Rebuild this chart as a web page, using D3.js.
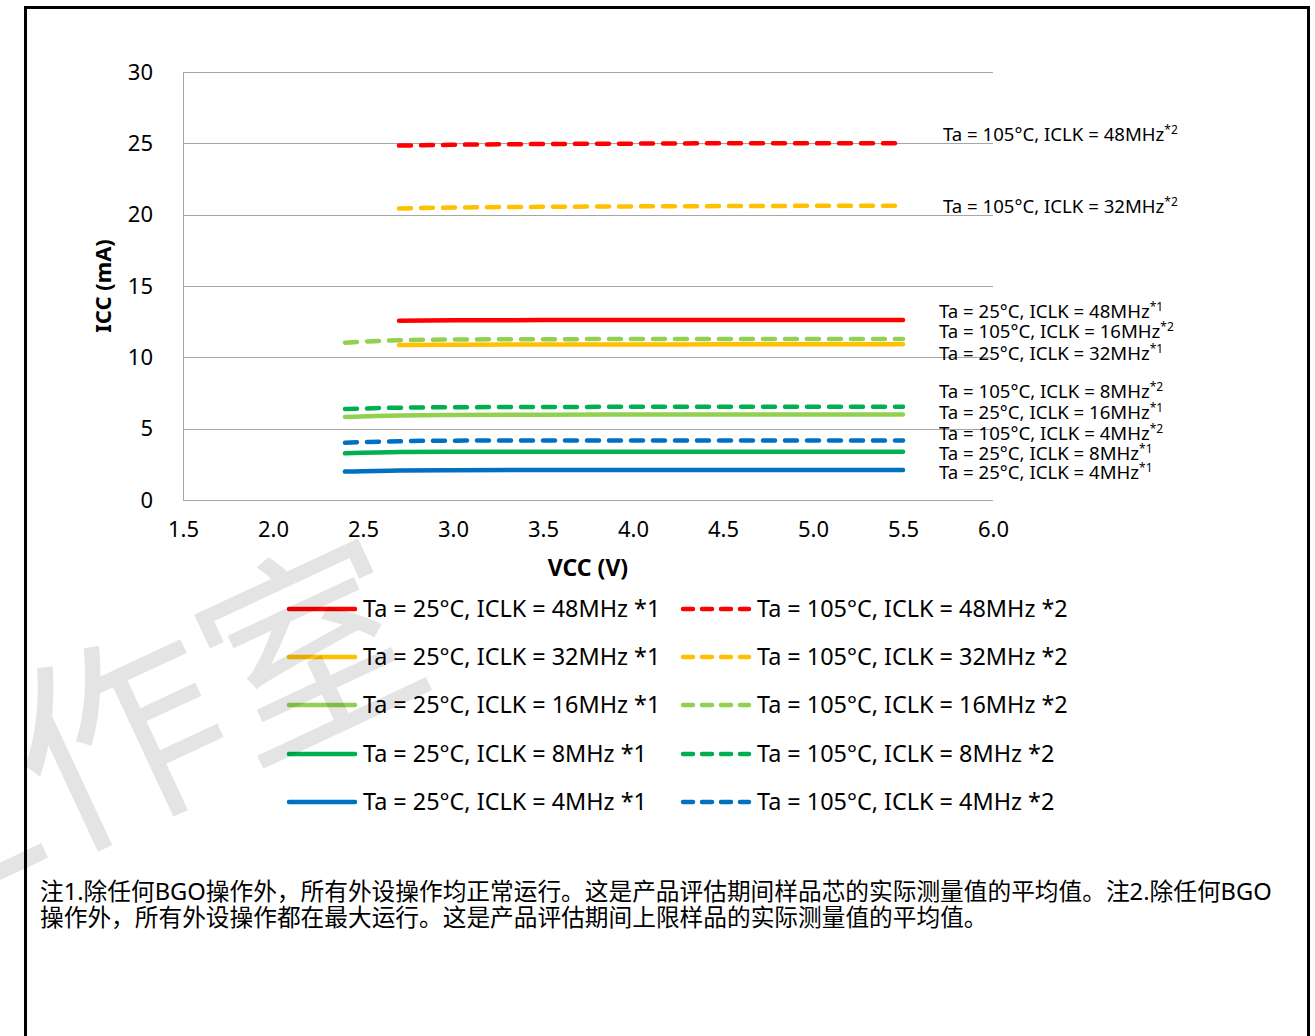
<!DOCTYPE html>
<html><head><meta charset="utf-8">
<script src="https://cdn.jsdelivr.net/npm/d3@7"></script>
<style>
body{margin:0;background:#fff;}
text{font-family:"Noto Sans","Noto Sans CJK SC",sans-serif;}
</style></head>
<body><svg id="c" width="1315" height="1036"></svg>
<script>
// ---- data ----
const xStart24 = [2.4, 2.7, 3.0, 3.5, 4.0, 4.5, 5.0, 5.5];
const xStart27 = [2.7, 3.0, 3.5, 4.0, 4.5, 5.0, 5.5];
const ta25_4MHz  = [1.99, 2.07, 2.09, 2.10, 2.10, 2.10, 2.10, 2.10];
const ta25_8MHz  = [3.27, 3.36, 3.38, 3.39, 3.39, 3.39, 3.39, 3.39];
const ta25_16MHz = [5.82, 5.93, 5.96, 5.98, 5.99, 6.00, 6.00, 6.00];
const ta25_32MHz = [10.86, 10.88, 10.90, 10.90, 10.91, 10.91, 10.91];
const ta25_48MHz = [12.57, 12.60, 12.61, 12.62, 12.62, 12.62, 12.62];
const ta105_4MHz  = [4.02, 4.12, 4.16, 4.17, 4.17, 4.17, 4.17, 4.17];
const ta105_8MHz  = [6.38, 6.47, 6.50, 6.52, 6.53, 6.53, 6.53, 6.53];
const ta105_16MHz = [11.03, 11.20, 11.25, 11.27, 11.28, 11.28, 11.28, 11.28];
const ta105_32MHz = [20.44, 20.50, 20.55, 20.58, 20.60, 20.62, 20.63];
const ta105_48MHz = [24.84, 24.90, 24.95, 24.98, 25.00, 25.00, 25.00];
const xTicks = [1.5, 2.0, 2.5, 3.0, 3.5, 4.0, 4.5, 5.0, 5.5, 6.0];
const yTicks = [0, 5, 10, 15, 20, 25, 30];
const legendLeft  = ["Ta = 25°C, ICLK = 48MHz *1","Ta = 25°C, ICLK = 32MHz *1","Ta = 25°C, ICLK = 16MHz *1","Ta = 25°C, ICLK = 8MHz *1","Ta = 25°C, ICLK = 4MHz *1"];
const legendRight = ["Ta = 105°C, ICLK = 48MHz *2","Ta = 105°C, ICLK = 32MHz *2","Ta = 105°C, ICLK = 16MHz *2","Ta = 105°C, ICLK = 8MHz *2","Ta = 105°C, ICLK = 4MHz *2"];
const colors = ["#FF0000","#FFC000","#92D050","#00B050","#0070C0"];
// right-side annotations: [main text, superscript]
const annoText = [
 ["Ta = 105°C, ICLK = 48MHz","*2"],["Ta = 105°C, ICLK = 32MHz","*2"],
 ["Ta = 25°C, ICLK = 48MHz","*1"],["Ta = 105°C, ICLK = 16MHz","*2"],["Ta = 25°C, ICLK = 32MHz","*1"],
 ["Ta = 105°C, ICLK = 8MHz","*2"],["Ta = 25°C, ICLK = 16MHz","*1"],["Ta = 105°C, ICLK = 4MHz","*2"],
 ["Ta = 25°C, ICLK = 8MHz","*1"],["Ta = 25°C, ICLK = 4MHz","*1"]];
const footLines = ["注1.除任何BGO操作外，所有外设操作均正常运行。这是产品评估期间样品芯的实际测量值的平均值。注2.除任何BGO",
 "操作外，所有外设操作都在最大运行。这是产品评估期间上限样品的实际测量值的平均值。"];
const xTitle = "VCC (V)", yTitle = "ICC (mA)";
const watermark = "工作室";

// ---- layout ----
const svg = d3.select("#c");
const x = d3.scaleLinear().domain([1.5, 6]).range([183, 993]);
const y = d3.scaleLinear().domain([0, 30]).range([500, 72]);

// frame
svg.append("rect").attr("x",25.5).attr("y",7.5).attr("width",1283).attr("height",1100)
  .attr("fill","none").attr("stroke","#000").attr("stroke-width",3);

// grid
svg.append("g").selectAll("line").data(yTicks).join("line")
  .attr("x1",x(1.5)).attr("x2",x(6)).attr("y1",d=>Math.round(y(d))+0.5).attr("y2",d=>Math.round(y(d))+0.5)
  .attr("stroke","#a6a6a6").attr("stroke-width",1);
svg.append("line").attr("x1",x(1.5)+0.5).attr("x2",x(1.5)+0.5).attr("y1",y(30)).attr("y2",y(0))
  .attr("stroke","#a6a6a6");

// axes
const ay = svg.append("g").attr("transform",`translate(${x(1.5)},0)`)
  .call(d3.axisLeft(y).tickValues(yTicks).tickSize(0).tickPadding(30).tickFormat(d3.format("d")));
const ax = svg.append("g").attr("transform",`translate(0,${y(0)})`)
  .call(d3.axisBottom(x).tickValues(xTicks).tickSize(0).tickPadding(21).tickFormat(d3.format(".1f")));
[ay,ax].forEach(a=>{a.select(".domain").remove();a.selectAll("text").attr("font-size",22).attr("fill","#000")
  .attr("font-family","'Noto Sans',sans-serif");});

svg.append("text").attr("x",588).attr("y",576).attr("text-anchor","middle").attr("font-size",23)
  .attr("font-weight","bold").text(xTitle);
svg.append("text").attr("transform","translate(111,286) rotate(-90)").attr("text-anchor","middle")
  .attr("font-size",22).attr("font-weight","bold").text(yTitle);

// series
const series = [
 {xs:xStart27, v:ta25_48MHz, c:colors[0], dash:false},
 {xs:xStart27, v:ta25_32MHz, c:colors[1], dash:false},
 {xs:xStart24, v:ta25_16MHz, c:colors[2], dash:false},
 {xs:xStart24, v:ta25_8MHz,  c:colors[3], dash:false},
 {xs:xStart24, v:ta25_4MHz,  c:colors[4], dash:false},
 {xs:xStart27, v:ta105_48MHz, c:colors[0], dash:true},
 {xs:xStart27, v:ta105_32MHz, c:colors[1], dash:true},
 {xs:xStart24, v:ta105_16MHz, c:colors[2], dash:true},
 {xs:xStart24, v:ta105_8MHz,  c:colors[3], dash:true},
 {xs:xStart24, v:ta105_4MHz,  c:colors[4], dash:true}];
const line = d3.line().x(d=>x(d[0])).y(d=>y(d[1])).curve(d3.curveMonotoneX);
svg.append("g").selectAll("path").data(series).join("path")
  .attr("d",s=>line(s.xs.map((xv,i)=>[xv,s.v[i]])))
  .attr("fill","none").attr("stroke",s=>s.c).attr("stroke-width",4.5)
  .attr("stroke-linecap","round").attr("stroke-dasharray",s=>s.dash?"12,10":null);

// annotations
const annoX = [943,943,939,939,939,939,939,939,939,939];
const annoY = [141,213,318,338,360,398,419,440,460,479];
const ag = svg.append("g");
annoText.forEach((a,i)=>{
  const t = ag.append("text").attr("x",annoX[i]).attr("y",annoY[i]).attr("font-size",18.6).attr("fill","#000");
  t.append("tspan").text(a[0]);
  t.append("tspan").attr("font-size",12).attr("dy",-7).text(a[1]);
});

// legend
const rowsY = [609,657,705,754,802];
const lg = svg.append("g");
[[legendLeft,287,false],[legendRight,681,true]].forEach(([labels,lx,dash])=>{
  labels.forEach((lab,i)=>{
    lg.append("line").attr("x1",lx+2).attr("x2",lx+68).attr("y1",rowsY[i]).attr("y2",rowsY[i])
      .attr("stroke",colors[i]).attr("stroke-width",4.5).attr("stroke-linecap","round")
      .attr("stroke-dasharray",dash?"10,9":null);
    lg.append("text").attr("x",lx+76).attr("y",rowsY[i]+8).attr("font-size",23.4).attr("fill","#000").text(lab);
  });
});

// footnote
svg.append("g").selectAll("text").data(footLines).join("text")
  .attr("x",40).attr("y",(d,i)=>900+i*26).attr("font-size",23.7)
  .attr("font-family","'Noto Sans CJK SC','Noto Sans',sans-serif").attr("fill","#000").text(d=>d);

// watermark
svg.append("text").attr("transform","translate(118,735) rotate(-25)").attr("text-anchor","middle")
  .attr("dominant-baseline","central").attr("font-size",210)
  .attr("font-family","'Noto Sans CJK SC',sans-serif").attr("fill","#000").attr("opacity",0.1).text(watermark);
</script></body></html>
